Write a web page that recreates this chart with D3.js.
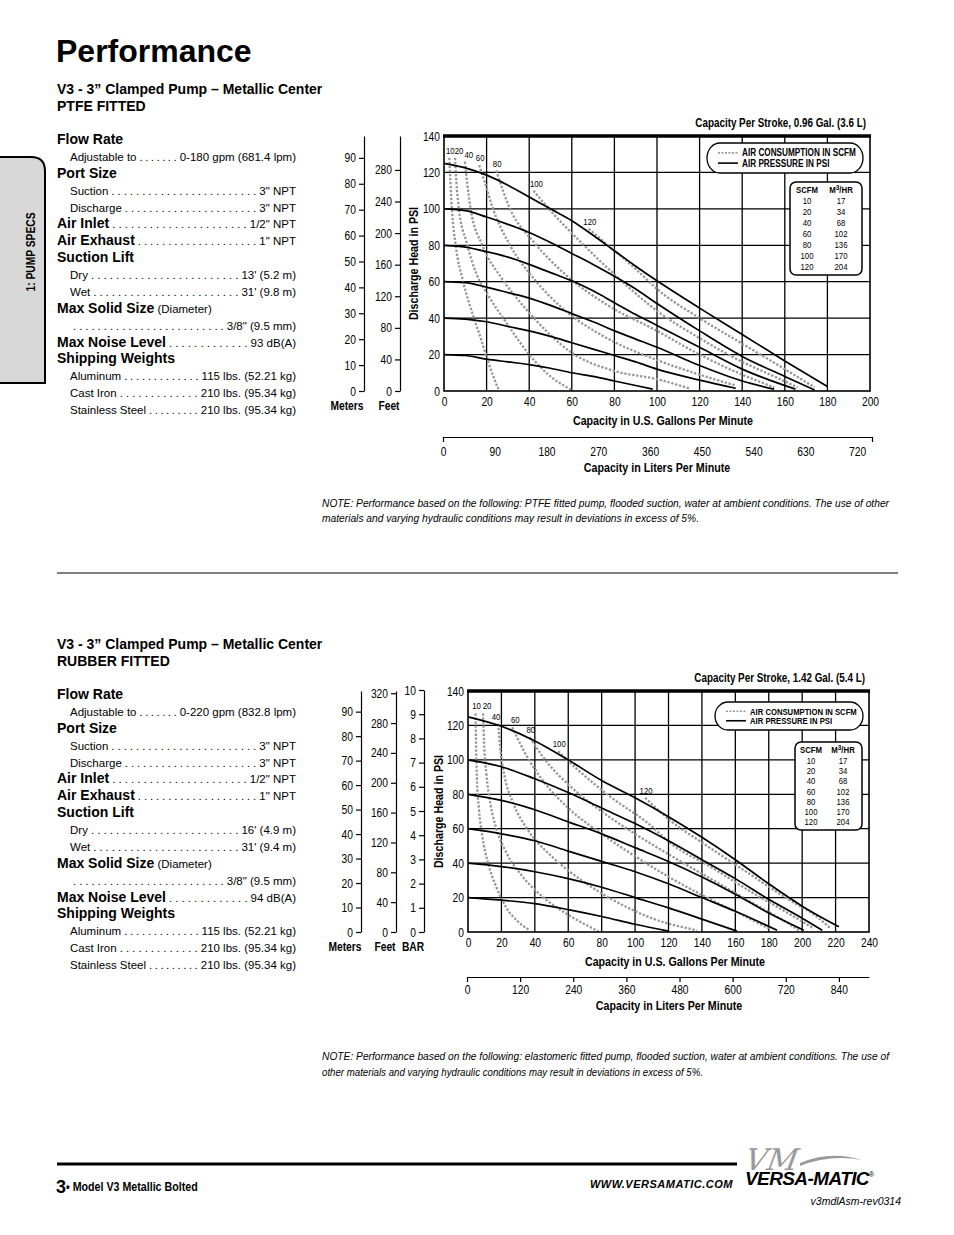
<!DOCTYPE html>
<html><head><meta charset="utf-8">
<script src="https://cdn.jsdelivr.net/npm/d3@7"></script>
<style>
html,body{margin:0;padding:0;background:#fff;}
svg{display:block;}
text{font-family:"Liberation Sans",Arial,Helvetica,sans-serif;fill:#000;}
.hd{font-weight:bold;font-size:14px;}
.it{font-size:11.5px;}
</style></head><body>
<script>
// ================= DATA =================
const psiTicks = [0,20,40,60,80,100,120,140];
const scfmLevels = [10,20,40,60,80,100,120];
const m3hrValues = [17,34,68,102,136,170,204];
const pressureLevels = [20,40,60,80,100,120];

// ---- PTFE fitted (top chart) ----
const ptfeGpmTicks = [0,20,40,60,80,100,120,140,160,180,200];
const ptfeMeterTicks = [0,10,20,30,40,50,60,70,80,90];
const ptfeFeetTicks = [0,40,80,120,160,200,240,280];
const ptfeLpmTicks = [0,90,180,270,360,450,540,630,720];
const ptfePsi20 = [[0,20],[10,19.5],[20,17.5],[30,16],[40,14.5],[50,12.5],[60,10],[70,8],[80,5.5],[90,3],[98,1]];
const ptfePsi40 = [[0,40],[10,39.5],[20,38],[30,35.5],[40,33],[50,30],[60,26.5],[70,23],[80,19.5],[90,16],[100,12],[120,6],[137,1.5]];
const ptfePsi60 = [[0,60],[10,59.5],[20,57],[30,54],[40,51],[50,47],[60,42.5],[70,38],[80,33],[90,28.5],[100,24],[120,14],[140,5.5],[155,1]];
const ptfePsi80 = [[0,80],[10,79],[20,76.5],[30,73.5],[40,69.5],[50,65],[60,60.5],[70,55],[80,48.5],[90,42],[100,36],[120,24],[140,12],[165,1]];
const ptfePsi100 = [[0,100],[10,99],[20,95.5],[30,91.5],[40,87],[50,81.5],[60,75.5],[70,69.5],[80,63],[90,56],[100,48],[120,33],[140,19],[160,8],[174,0.5]];
const ptfePsi120 = [[0,125],[10,122.5],[20,118.5],[30,113],[40,106.5],[50,100],[60,93.5],[70,85.5],[80,77],[90,68.5],[100,60.5],[120,45.5],[140,31],[160,16.5],[180,2.5]];
const ptfeAir10 = [[2.5,128],[3,115],[3.7,100],[5.5,80],[9,60],[13.5,42],[17.5,28],[21,15],[25.5,1]];
const ptfeAir20 = [[5.2,128],[5.8,115],[7,100],[10.5,82],[15,65],[21,52],[29,38],[40,20],[50,8],[60,0.5]];
const ptfeAir40 = [[9.8,126],[11,113],[12.5,100],[18,80],[27,62],[37,47],[48,33],[60,21],[80,11],[100,6.5],[115,1.5]];
const ptfeAir60 = [[16.5,124],[19,115],[23,100],[31,80],[42,62],[56,45],[75,30],[100,17],[120,9],[137,3]];
const ptfeAir80 = [[24.5,121],[31,100],[42,82],[57,64],[77,47],[100,33],[120,20],[140,9],[155,2]];
const ptfeAir100 = [[42,110],[50,99],[64,82],[80,64],[100,44],[120,29],[140,16],[155,8],[166,2]];
const ptfeAir120 = [[68,89],[78,79],[90,67],[100,56],[120,40],[140,26],[160,12],[174,2]];

// ---- Rubber fitted (bottom chart) ----
const rubGpmTicks = [0,20,40,60,80,100,120,140,160,180,200,220,240];
const rubMeterTicks = [0,10,20,30,40,50,60,70,80,90];
const rubFeetTicks = [0,40,80,120,160,200,240,280,320];
const rubBarTicks = [0,1,2,3,4,5,6,7,8,9,10];
const rubLpmTicks = [0,120,240,360,480,600,720,840];
const rubPsi20 = [[0,20],[20,18.5],[40,16.5],[60,13],[80,9],[100,4.5],[120,0.5]];
const rubPsi40 = [[0,40],[20,38],[40,35],[60,31],[80,26],[100,20],[120,14],[140,7.5],[161,0.5]];
const rubPsi60 = [[0,60],[20,57],[40,53],[60,47],[80,41],[100,35],[120,28],[140,20],[160,12],[185,1]];
const rubPsi80 = [[0,80],[20,76.5],[40,71],[60,64],[80,57],[100,49],[120,41],[140,32],[160,22],[180,11],[201,1]];
const rubPsi100 = [[0,100],[20,96],[40,89],[60,81],[80,72],[100,63],[120,53],[140,42],[160,31],[180,19],[200,8],[212,1]];
const rubPsi120 = [[0,125],[20,119.5],[40,111],[60,100],[80,88],[100,78],[120,67],[140,55],[160,42],[180,28],[200,15],[222,3]];
const rubAir10 = [[4.5,127],[4.8,110],[5.3,90],[6.5,72],[8.5,56],[12,40],[17,26],[23,14],[30,6],[37,1]];
const rubAir20 = [[9,127],[9.6,110],[11,92],[13.5,74],[17,60],[23,46],[32,33],[44,21],[60,10],[78,0.5]];
const rubAir40 = [[18,121],[19.5,105],[22,90],[27,75],[36,59],[50,44],[68,30],[88,18],[110,8],[137,1]];
const rubAir60 = [[26.5,119],[33,106],[44,89],[60,72],[80,57],[100,44],[122,31],[145,19],[168,8],[180,2]];
const rubAir80 = [[37,113],[47,99],[62,84],[80,70],[100,57],[122,44],[145,31],[170,17],[190,6],[198,1]];
const rubAir100 = [[54,105],[66,94],[86,78],[108,63],[122,51],[145,38],[170,23],[195,9],[207,2]];
const rubAir120 = [[106,78],[122,64],[140,52],[165,36],[190,20],[210,8],[217,2]];

// ---- Spec text ----
const ptfeSpecRows = [
 ["h","Flow Rate"],["i","Adjustable to","0-180 gpm (681.4 lpm)"],["h","Port Size"],
 ["i","Suction",'3" NPT'],["i","Discharge",'3" NPT'],["hv","Air Inlet",'1/2" NPT'],["hv","Air Exhaust",'1" NPT'],
 ["h","Suction Lift"],["i","Dry","13' (5.2 m)"],["i","Wet","31' (9.8 m)"],["hx","Max Solid Size"," (Diameter)"],
 ["i","",'3/8" (9.5 mm)'],["hv","Max Noise Level","93 dB(A)"],["h","Shipping Weights"],
 ["i","Aluminum","115 lbs. (52.21 kg)"],["i","Cast Iron","210 lbs. (95.34 kg)"],["i","Stainless Steel","210 lbs. (95.34 kg)"]
];
const rubSpecRows = [
 ["h","Flow Rate"],["i","Adjustable to","0-220 gpm (832.8 lpm)"],["h","Port Size"],
 ["i","Suction",'3" NPT'],["i","Discharge",'3" NPT'],["hv","Air Inlet",'1/2" NPT'],["hv","Air Exhaust",'1" NPT'],
 ["h","Suction Lift"],["i","Dry","16' (4.9 m)"],["i","Wet","31' (9.4 m)"],["hx","Max Solid Size"," (Diameter)"],
 ["i","",'3/8" (9.5 mm)'],["hv","Max Noise Level","94 dB(A)"],["h","Shipping Weights"],
 ["i","Aluminum","115 lbs. (52.21 kg)"],["i","Cast Iron","210 lbs. (95.34 kg)"],["i","Stainless Steel","210 lbs. (95.34 kg)"]
];

// ================= DRAW =================
const svg = d3.select("body").append("svg").attr("width",954).attr("height",1235);
svg.append("rect").attr("width",954).attr("height",1235).attr("fill","#fff");

// Title
svg.append("text").attr("x",56).attr("y",62).style("font-size","32px").style("font-weight","bold").text("Performance");

// side tab
svg.append("path").attr("d","M-3,157 H31 Q45,157 45,171 V383 H-3 Z").attr("fill","#d8d8d8").attr("stroke","#000").attr("stroke-width",2);
svg.append("text").attr("class","n").attr("transform","translate(35,252) rotate(-90)").attr("text-anchor","middle")
  .style("font-size","12.5px").style("font-weight","bold").text("1: PUMP SPECS");

function specBlock(rows, title1, title2, yTitle, yStart){
  const g = svg.append("g");
  g.append("text").attr("x",57).attr("y",yTitle).style("font-size","14px").style("font-weight","bold").text(title1);
  g.append("text").attr("x",57).attr("y",yTitle+17).style("font-size","14px").style("font-weight","bold").text(title2);
  const p2 = g.append("text").attr("class","it").text(". ."), p1 = g.append("text").attr("class","it").text(".");
  const step = p2.node().getComputedTextLength() - p1.node().getComputedTextLength();
  p2.remove(); p1.remove();
  const xr = 296;
  rows.forEach((row,i)=>{
    const yb = yStart + i*16.875;
    const [type,label,val] = row;
    if(type==="h"){ g.append("text").attr("x",57).attr("y",yb).attr("class","hd").text(label); return; }
    if(type==="hx"){ const t=g.append("text").attr("x",57).attr("y",yb);
      t.append("tspan").attr("class","hd").text(label); t.append("tspan").attr("class","it").text(val); return; }
    const x0 = type==="hv"?57:70;
    let lw = 0;
    if(label){ const lt=g.append("text").attr("x",x0).attr("y",yb).attr("class",type==="hv"?"hd":"it").text(label); lw=lt.node().getComputedTextLength(); }
    const vt = g.append("text").attr("x",xr).attr("y",yb).attr("text-anchor","end").attr("class","it").text(val);
    const vw = vt.node().getComputedTextLength();
    const start = x0 + lw + 3, end = xr - vw - 3;
    const n = Math.max(1, Math.round((end-start)/step)+1);
    const dt = g.append("text").attr("class","it").attr("x",start).attr("y",yb).text(Array(n).fill(".").join(" "));
    dt.attr("textLength", end-start).attr("lengthAdjust","spacing");
  });
}
specBlock(ptfeSpecRows,"V3 - 3\u201D Clamped Pump \u2013 Metallic Center","PTFE FITTED",94,144);
specBlock(rubSpecRows,"V3 - 3\u201D Clamped Pump \u2013 Metallic Center","RUBBER FITTED",649,699);

// separator
svg.append("line").attr("x1",57).attr("x2",898).attr("y1",573).attr("y2",573).attr("stroke","#000").attr("stroke-width",1);

function styleAxis(sel, size){
  sel.selectAll("text").attr("class","n").style("font-size",size||"12.5px").style("fill","#000");
  sel.selectAll("line").attr("stroke","#000").attr("stroke-width",1.2);
  sel.select(".domain").attr("stroke","#000").attr("stroke-width",1.2);
}

function drawChart(o){
  const x = d3.scaleLinear().domain([0,o.gpmMax]).range([o.x0,o.x1]);
  const y = d3.scaleLinear().domain([0,140]).range([o.y0,o.y1]);
  const g = svg.append("g");
  // grid
  g.selectAll(".vg").data(o.gpmTicks.filter(d=>d>0&&d<o.gpmMax)).join("line")
    .attr("x1",d=>x(d)).attr("x2",d=>x(d)).attr("y1",y(0)).attr("y2",y(140)).attr("stroke","#000").attr("stroke-width",1.3);
  g.selectAll(".hg").data(psiTicks.filter(d=>d>0&&d<140)).join("line")
    .attr("x1",x(0)).attr("x2",x(o.gpmMax)).attr("y1",d=>y(d)).attr("y2",d=>y(d)).attr("stroke","#000").attr("stroke-width",1.3);
  const line = d3.line().x(d=>x(d[0])).y(d=>y(d[1])).curve(d3.curveMonotoneX);
  // air consumption (dashed)
  g.selectAll(".air").data(o.air).join("path").attr("d",d=>line(d)).attr("fill","none")
    .attr("stroke","#969696").attr("stroke-width",2.3).attr("stroke-dasharray","2.3,1.7");
  g.selectAll(".airlab").data(o.air).join("text").attr("class","n")
    .attr("x",(d,i)=>x(d[0][0])+1+o.labDx[i]).attr("y",d=>y(d[0][1])-4).attr("text-anchor","middle")
    .style("font-size","9.5px").text((d,i)=>scfmLevels[i]);
  // pressure (solid)
  g.selectAll(".psi").data(o.psi).join("path").attr("d",d=>line(d)).attr("fill","none")
    .attr("stroke","#000").attr("stroke-width",1.7);
  // frame
  g.append("rect").attr("x",x(0)).attr("y",y(140)).attr("width",x(o.gpmMax)-x(0)).attr("height",y(0)-y(140))
    .attr("fill","none").attr("stroke","#000").attr("stroke-width",1.6);
  g.append("line").attr("x1",x(0)-1).attr("x2",x(o.gpmMax)+1).attr("y1",y(140)).attr("y2",y(140)).attr("stroke","#000").attr("stroke-width",3.5);
  // psi axis
  const ya = g.append("g").attr("transform",`translate(${x(0)},0)`).call(d3.axisLeft(y).tickValues(psiTicks).tickSize(0).tickPadding(4));
  ya.select(".domain").remove(); styleAxis(ya);
  const xa = g.append("g").attr("transform",`translate(0,${y(0)})`).call(d3.axisBottom(x).tickValues(o.gpmTicks).tickSize(0).tickPadding(6));
  xa.select(".domain").remove(); styleAxis(xa);
  // secondary unit axes
  o.units.forEach(u=>{
    const s = d3.scaleLinear().domain([0,u.max]).range([o.y0,u.top]);
    const a = g.append("g").attr("transform",`translate(${u.x},0)`).call(d3.axisLeft(s).tickValues(u.ticks).tickSize(5).tickSizeOuter(0).tickPadding(3));
    styleAxis(a);
    g.append("text").attr("class","n").attr("x",u.labX).attr("y",o.y0+19).attr("text-anchor","middle")
      .style("font-size","12.5px").style("font-weight","bold").text(u.name);
  });
  // liters axis
  const ls = d3.scaleLinear().domain([0,o.lpmMax]).range([x(0)-1,o.lpmRight]);
  const la = g.append("g").attr("transform",`translate(0,${o.lpmY})`)
    .call(d3.axisBottom(ls).tickValues(o.lpmTicks).tickSize(o.lpmTickSize).tickSizeOuter(o.lpmOuter).tickPadding(o.lpmPad));
  styleAxis(la);
  // titles
  g.append("text").attr("class","n").attr("transform",`translate(${o.yTitleX},${(y(0)+y(140))/2}) rotate(-90)`).attr("text-anchor","middle")
    .style("font-size","13px").style("font-weight","bold").text("Discharge Head in PSI");
  g.append("text").attr("class","n").attr("x",o.gTitleX).attr("y",o.y0+34).attr("text-anchor","middle")
    .style("font-size","13px").style("font-weight","bold").text("Capacity in U.S. Gallons Per Minute");
  g.append("text").attr("class","n").attr("x",o.lTitleX).attr("y",o.lTitleY).attr("text-anchor","middle")
    .style("font-size","13px").style("font-weight","bold").text("Capacity in Liters Per Minute");
  g.append("text").attr("class","n").attr("x",x(o.gpmMax)-4).attr("y",y(140)-9).attr("text-anchor","end")
    .style("font-size","12px").style("font-weight","bold").text(o.stroke);
  // legend
  const L = o.legend;
  g.append("rect").attr("x",L.x).attr("y",L.y).attr("width",L.w).attr("height",L.h).attr("rx",13).attr("ry",L.h/2)
    .attr("fill","#fff").attr("stroke","#000").attr("stroke-width",1.3);
  g.append("line").attr("x1",L.x+11).attr("x2",L.x+31).attr("y1",L.y+L.h*0.33).attr("y2",L.y+L.h*0.33)
    .attr("stroke","#9a9a9a").attr("stroke-width",1.6).attr("stroke-dasharray","2,1.5");
  g.append("line").attr("x1",L.x+11).attr("x2",L.x+31).attr("y1",L.y+L.h*0.67).attr("y2",L.y+L.h*0.67)
    .attr("stroke","#000").attr("stroke-width",1.6);
  g.append("text").attr("class","n").attr("x",L.x+35).attr("y",L.y+L.h*0.33+3.5).style("font-size",L.fs).style("font-weight","bold").text("AIR CONSUMPTION IN SCFM");
  g.append("text").attr("class","n").attr("x",L.x+35).attr("y",L.y+L.h*0.67+3.5).style("font-size",L.fs).style("font-weight","bold").text("AIR PRESSURE IN PSI");
  // table
  const T = o.table;
  g.append("rect").attr("x",T.x).attr("y",T.y).attr("width",T.w).attr("height",T.h).attr("rx",6)
    .attr("fill","#fff").attr("stroke","#000").attr("stroke-width",1.5);
  g.append("text").attr("class","n").attr("x",T.c1).attr("y",T.y+11).attr("text-anchor","middle").style("font-size","9.5px").style("font-weight","bold").text("SCFM");
  const h2 = g.append("text").attr("class","n").attr("x",T.c2).attr("y",T.y+11).attr("text-anchor","middle").style("font-size","9.5px").style("font-weight","bold");
  h2.append("tspan").text("M"); h2.append("tspan").attr("dy",-3).style("font-size","8px").text("3"); h2.append("tspan").attr("dy",3).text("/HR");
  g.selectAll(".tr1").data(scfmLevels).join("text").attr("class","n").attr("x",T.c1).attr("y",(d,i)=>T.y+22+i*T.step)
    .attr("text-anchor","middle").style("font-size","9.5px").text(d=>d);
  g.selectAll(".tr2").data(m3hrValues).join("text").attr("class","n").attr("x",T.c2).attr("y",(d,i)=>T.y+22+i*T.step)
    .attr("text-anchor","middle").style("font-size","9.5px").text(d=>d);
}

drawChart({
  x0:444,x1:870,y0:391,y1:136,gpmMax:200,gpmTicks:ptfeGpmTicks,
  psi:[ptfePsi20,ptfePsi40,ptfePsi60,ptfePsi80,ptfePsi100,ptfePsi120],
  air:[ptfeAir10,ptfeAir20,ptfeAir40,ptfeAir60,ptfeAir80,ptfeAir100,ptfeAir120],
  labDx:[0,3,3,0,0,2,0],
  units:[{name:"Meters",x:364,max:140*0.7031,top:136,ticks:ptfeMeterTicks,labX:347},
         {name:"Feet",x:400,max:140*2.307,top:136,ticks:ptfeFeetTicks,labX:389}],
  lpmMax:746,lpmRight:872,lpmY:437,lpmTicks:ptfeLpmTicks,lpmTickSize:0,lpmOuter:5,lpmPad:10,
  yTitleX:418,gTitleX:663,lTitleX:657,lTitleY:472,
  stroke:"Capacity Per Stroke, 0.96 Gal. (3.6 L)",
  legend:{x:707,y:143,w:156,h:30,fs:"10px"},
  table:{x:790,y:182,w:72,h:93,c1:807,c2:841,step:11}
});
drawChart({
  x0:468,x1:869,y0:932,y1:691,gpmMax:240,gpmTicks:rubGpmTicks,
  psi:[rubPsi20,rubPsi40,rubPsi60,rubPsi80,rubPsi100,rubPsi120],
  air:[rubAir10,rubAir20,rubAir40,rubAir60,rubAir80,rubAir100,rubAir120],
  labDx:[0,3,-3,2,0,0,0],
  units:[{name:"Meters",x:361,max:140*0.7031,top:691,ticks:rubMeterTicks,labX:345},
         {name:"Feet",x:396,max:140*2.307,top:691,ticks:rubFeetTicks,labX:385},
         {name:"BAR",x:424,max:10,top:690,ticks:rubBarTicks,labX:413}],
  lpmMax:908,lpmRight:869,lpmY:977,lpmTicks:rubLpmTicks,lpmTickSize:5,lpmOuter:0,lpmPad:3,
  yTitleX:443,gTitleX:675,lTitleX:669,lTitleY:1010,
  stroke:"Capacity Per Stroke, 1.42 Gal. (5.4 L)",
  legend:{x:715,y:702,w:148,h:28,fs:"9.4px"},
  table:{x:795,y:742,w:67,h:88,c1:811,c2:843,step:10.2}
});

// notes (fitted to the reference line widths)
function note(txt, y, w){
  svg.append("text").attr("x",322).attr("y",y).style("font-size","10.6px").style("font-style","italic")
    .attr("textLength",w).attr("lengthAdjust","spacingAndGlyphs").text(txt);
}
note("NOTE: Performance based on the following: PTFE fitted pump, flooded suction, water at ambient conditions. The use of other",507,567);
note("materials and varying hydraulic conditions may result in deviations in excess of 5%.",522,377);
note("NOTE: Performance based on the following: elastomeric fitted pump, flooded suction, water at ambient conditions. The use of",1060,567);
note("other materials and varying hydraulic conditions may result in deviations in excess of 5%.",1076,381);

// footer
svg.append("line").attr("x1",57).attr("x2",737).attr("y1",1164).attr("y2",1164).attr("stroke","#000").attr("stroke-width",3);
svg.append("text").attr("x",56).attr("y",1193).style("font-size","18px").style("font-weight","bold").text("3");
svg.append("text").attr("class","n").attr("x",66).attr("y",1191).style("font-size","13px").style("font-weight","bold").text("\u2022 Model V3 Metallic Bolted");
svg.append("text").attr("x",733).attr("y",1188).attr("text-anchor","end").style("font-size","11px")
  .style("font-weight","bold").style("font-style","italic").style("letter-spacing","0.5px").text("WWW.VERSAMATIC.COM");
// logo
svg.append("text").attr("x",744).attr("y",1170).style("font-family","'DejaVu Serif',serif").style("font-style","italic")
  .style("font-size","30px").style("fill","#9a9a9a").attr("transform","translate(744,1170) skewX(-10) translate(-744,-1170)").text("VM");
svg.append("path").attr("d","M800,1163 Q830,1150 862,1160 Q830,1154 800,1166 Z").attr("fill","#9a9a9a");
svg.append("text").attr("x",745).attr("y",1185).style("font-size","19px").style("font-weight","900").style("font-style","italic")
  .style("letter-spacing","-0.6px").text("VERSA-MATIC");
svg.append("text").attr("x",869).attr("y",1177).style("font-size","7px").text("\u00AE");
svg.append("text").attr("x",901).attr("y",1205).attr("text-anchor","end").style("font-size","10.5px").style("font-style","italic").text("v3mdlAsm-rev0314");

// condensed look for chart lettering (Helvetica Condensed in the original)
svg.selectAll("text.n").each(function(){
  const w = this.getComputedTextLength();
  d3.select(this).attr("textLength", w*0.82).attr("lengthAdjust","spacingAndGlyphs");
});
</script></body></html>
